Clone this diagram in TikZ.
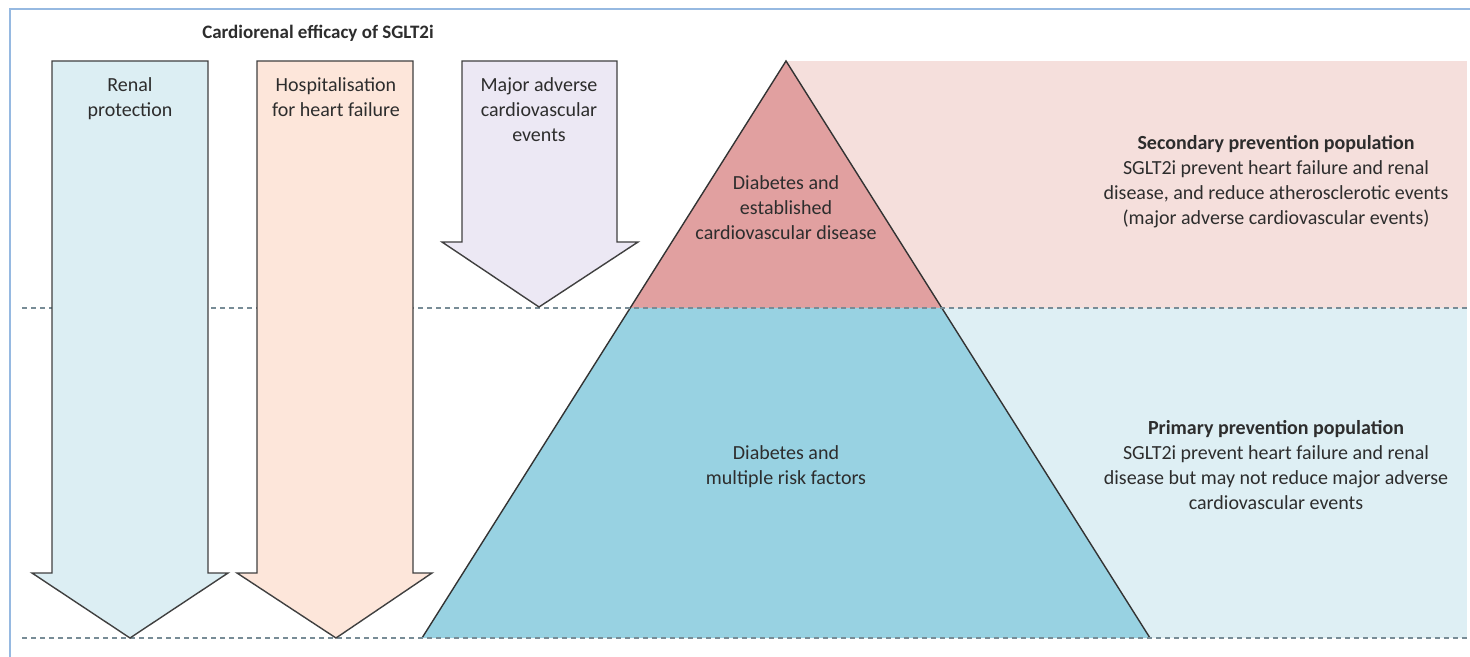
\documentclass[tikz,border=0pt]{standalone}
\usepackage{fontspec}
\setmainfont{Carlito}
\definecolor{frame}{RGB}{150,185,225}
\definecolor{renalfill}{RGB}{220,238,243}
\definecolor{hospfill}{RGB}{253,230,218}
\definecolor{macefill}{RGB}{236,232,244}
\definecolor{topband}{RGB}{245,223,220}
\definecolor{botband}{RGB}{222,239,244}
\definecolor{toptri}{RGB}{225,160,160}
\definecolor{bottri}{RGB}{152,210,226}
\definecolor{dashcol}{RGB}{120,140,150}
\definecolor{txt}{RGB}{45,45,45}
\begin{document}
\begin{tikzpicture}[x=0.5pt,y=-0.5pt,
  arrowshape/.style={draw=black!75,line width=0.7pt,line join=miter},
  lbl/.style={align=center,font=\fontsize{10}{12.5}\selectfont,text=txt,inner sep=0pt},
  sepline/.style={draw=dashcol,dashed,dash pattern=on 2.5pt off 2pt,line width=0.8pt}]
\useasboundingbox (0,0) rectangle (1470,657);
% frame
\draw[frame,line width=1.4pt] (10,657) -- (10,9) -- (1470,9);
% bands
\fill[topband] (786,61) rectangle (1467,308);
\fill[botband] (786,308) rectangle (1467,638);
% pyramid
\fill[toptri] (786,61) -- (630,308) -- (942,308) -- cycle;
\fill[bottri] (630,308) -- (422,638) -- (1150,638) -- (942,308) -- cycle;
\draw[black!80,line width=0.7pt] (422,638) -- (786,61) -- (1150,638);
% dashed lines
\draw[sepline] (22,308) -- (1467,308);
\draw[sepline] (22,638) -- (1467,638);
% arrows
\draw[arrowshape,fill=renalfill] (52,61) -- (208,61) -- (208,573) -- (228,573) -- (130,638) -- (32,573) -- (52,573) -- cycle;
\draw[arrowshape,fill=hospfill] (257,61) -- (413,61) -- (413,573) -- (432,573) -- (336,638) -- (237,573) -- (257,573) -- cycle;
\draw[arrowshape,fill=macefill] (462,61) -- (617,61) -- (617,242) -- (638,242) -- (539,307) -- (442,242) -- (462,242) -- cycle;
% title
\node[lbl,font=\fontsize{9.5}{12.5}\selectfont\bfseries] (title) at (318,33) {Cardiorenal efficacy of SGLT2i};
% arrow labels
\node[lbl,anchor=north] (renal) at (130,77) {Renal\\protection};
\node[lbl,anchor=north] (hosp) at (336,77) {Hospitalisation\\for heart failure};
\node[lbl,anchor=north] (mace) at (539,77) {Major adverse\\cardiovascular\\events};
% pyramid labels
\node[lbl,anchor=north] (estab) at (786,175) {Diabetes and\\established\\cardiovascular disease};
\node[lbl,anchor=north] (multi) at (786,445) {Diabetes and\\multiple risk factors};
% right texts
\node[lbl,anchor=north] (secondary) at (1276,135) {\textbf{Secondary prevention population}\\SGLT2i prevent heart failure and renal\\disease, and reduce atherosclerotic events\\(major adverse cardiovascular events)};
\node[lbl,anchor=north] (primary) at (1276,420) {\textbf{Primary prevention population}\\SGLT2i prevent heart failure and renal\\disease but may not reduce major adverse\\cardiovascular events};
\end{tikzpicture}
\end{document}
